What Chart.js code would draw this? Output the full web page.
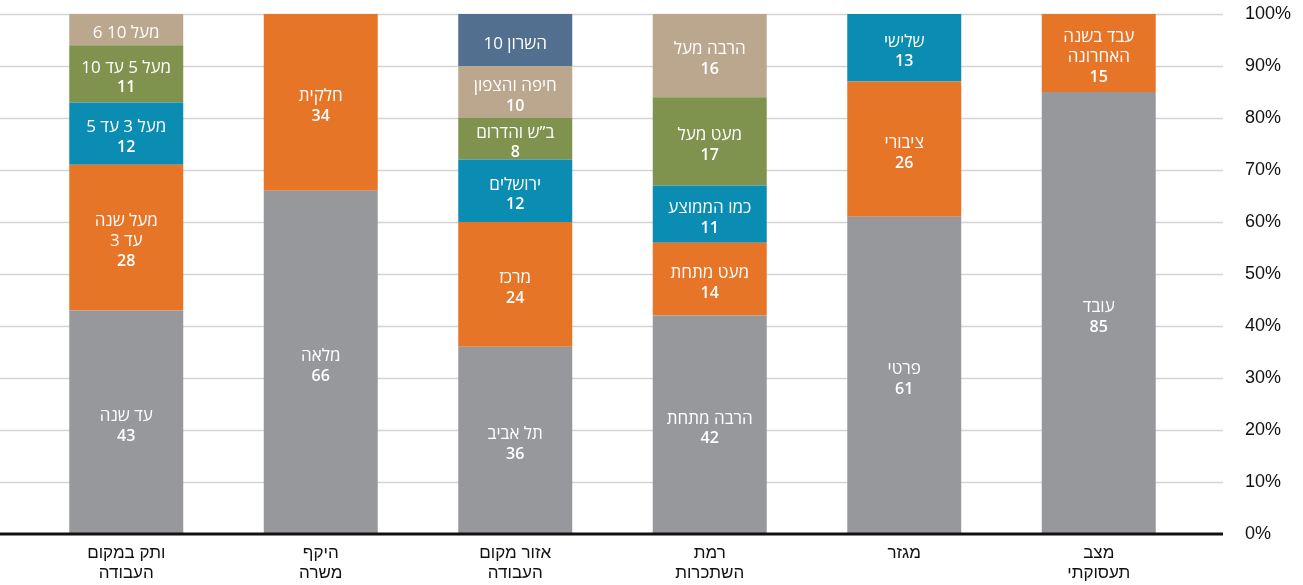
<!DOCTYPE html>
<html lang="he">
<head>
<meta charset="utf-8">
<script src="https://cdn.jsdelivr.net/npm/chart.js@4"></script>
<style>
  html, body { margin: 0; padding: 0; background: #fff; }
  #wrap { width: 1303px; height: 585px; }
</style>
</head>
<body>
<div id="wrap"><canvas id="chart"></canvas></div>
<script>
// Categories (left to right)
const categories = [
    ['ותק במקום', 'העבודה'],
    ['היקף', 'משרה'],
    ['אזור מקום', 'העבודה'],
    ['רמת', 'השתכרות'],
    ['מגזר'],
    ['מצב', 'תעסוקתי']
];

// Segment names per bar, bottom to top ("\n" = line break)
const segmentNames = [
    ['עד שנה', 'מעל שנה\nעד 3', 'מעל 3 עד 5', 'מעל 5 עד 10', 'מעל 10'],
    ['מלאה', 'חלקית'],
    ['תל אביב', 'מרכז', 'ירושלים', 'ב”ש והדרום', 'חיפה והצפון', 'השרון'],
    ['הרבה מתחת', 'מעט מתחת', 'כמו הממוצע', 'מעט מעל', 'הרבה מעל'],
    ['פרטי', 'ציבורי', 'שלישי'],
    ['עובד', 'עבד בשנה\nהאחרונה']
];

// Segment values per bar (percent), bottom to top
const segmentValues = [
    [43, 28, 12, 11, 6],
    [66, 34],
    [36, 24, 12, 8, 10, 10],
    [42, 14, 11, 17, 16],
    [61, 26, 13],
    [85, 15]
];

// Segments whose value is written on the same line as the name
const inlineValue = [
    [false, false, false, false, true],
    [false, false],
    [false, false, false, false, false, true],
    [false, false, false, false, false],
    [false, false, false],
    [false, false]
];

const yTicks = [0, 10, 20, 30, 40, 50, 60, 70, 80, 90, 100];

// colour by layer (bottom to top)
const layerColors = ['#97989c', '#e77527', '#0b8cb2', '#7f934e', '#baa78e', '#536f8f'];

const maxLayers = Math.max(...segmentValues.map(v => v.length));
const datasets = [];
for (let i = 0; i < maxLayers; i++) {
    datasets.push({
        label: 'layer ' + i,
        data: segmentValues.map(v => (i < v.length ? v[i] : null)),
        backgroundColor: layerColors[i],
        borderWidth: 0,
        barPercentage: 0.586,
        categoryPercentage: 1
    });
}

// horizontal grid lines running under the whole width
const gridPlugin = {
    id: 'gridPlugin',
    beforeDatasetsDraw(chart) {
        const ctx = chart.ctx;
        const y = chart.scales.y;
        ctx.save();
        ctx.strokeStyle = '#d4d4d4';
        ctx.lineWidth = 1.5;
        yTicks.forEach(t => {
            if (t === 0) return;
            const py = Math.round(y.getPixelForValue(t)) + 0.5;
            ctx.beginPath();
            ctx.moveTo(0, py);
            ctx.lineTo(1223, py);
            ctx.stroke();
        });
        ctx.restore();
    },
    afterDatasetsDraw(chart) {
        const ctx = chart.ctx;
        const y = chart.scales.y;
        ctx.save();
        ctx.strokeStyle = '#111';
        ctx.lineWidth = 3;
        const py = y.getPixelForValue(0);
        ctx.beginPath();
        ctx.moveTo(0, py);
        ctx.lineTo(1223, py);
        ctx.stroke();
        ctx.restore();
    }
};

// white labels inside segments
const textFont = '500 17px "Open Sans", "Liberation Sans", sans-serif';
const numFont = '600 16px "Open Sans", "Liberation Sans", sans-serif';

const segmentLabels = {
    id: 'segmentLabels',
    afterDatasetsDraw(chart) {
        const ctx = chart.ctx;
        ctx.save();
        ctx.fillStyle = '#fff';
        ctx.textAlign = 'center';
        ctx.textBaseline = 'middle';
        ctx.direction = 'rtl';
        const lineH = 20;
        chart.data.datasets.forEach((ds, di) => {
            const meta = chart.getDatasetMeta(di);
            meta.data.forEach((bar, bi) => {
                const v = segmentValues[bi][di];
                if (v === undefined) return;
                const lines = segmentNames[bi][di].split('\n').map(t => ({ t: t, f: textFont }));
                if (inlineValue[bi][di]) {
                    lines[lines.length - 1].t += ' ' + v;
                } else {
                    lines.push({ t: String(v), f: numFont });
                }
                const cy = (bar.y + bar.base) / 2 + 4;
                const top = cy - (lines.length - 1) * lineH / 2;
                lines.forEach((l, k) => {
                    ctx.font = l.f;
                    ctx.fillText(l.t, bar.x, top + k * lineH);
                });
            });
        });
        ctx.restore();
    }
};

new Chart(document.getElementById('chart'), {
    type: 'bar',
    data: { labels: categories, datasets: datasets },
    options: {
        responsive: true,
        maintainAspectRatio: false,
        animation: false,
        layout: { padding: { left: 29, right: 0, top: 14, bottom: 0 } },
        plugins: {
            legend: { display: false },
            tooltip: { enabled: false }
        },
        scales: {
            x: {
                stacked: true,
                grid: { display: false },
                border: { display: false },
                ticks: {
                    color: '#111',
                    font: { family: '"Liberation Sans", Arial, sans-serif', size: 17 },
                    padding: 1,
                    maxRotation: 0,
                    autoSkip: false
                },
                afterFit: s => { s.height = 51; }
            },
            y: {
                stacked: true,
                position: 'right',
                min: 0,
                max: 100,
                afterBuildTicks: s => { s.ticks = yTicks.map(v => ({ value: v })); },
                grid: { display: false },
                border: { display: false },
                ticks: {
                    color: '#111',
                    crossAlign: 'near',
                    padding: 41,
                    font: { family: '"Liberation Sans", Arial, sans-serif', size: 18 },
                    callback: v => v + '%'
                },
                afterFit: s => {
                    s.width = 107;
                    s.paddingTop = 8;
                    s.paddingBottom = 8;
                }
            }
        }
    },
    plugins: [gridPlugin, segmentLabels]
});
</script>
</body>
</html>
